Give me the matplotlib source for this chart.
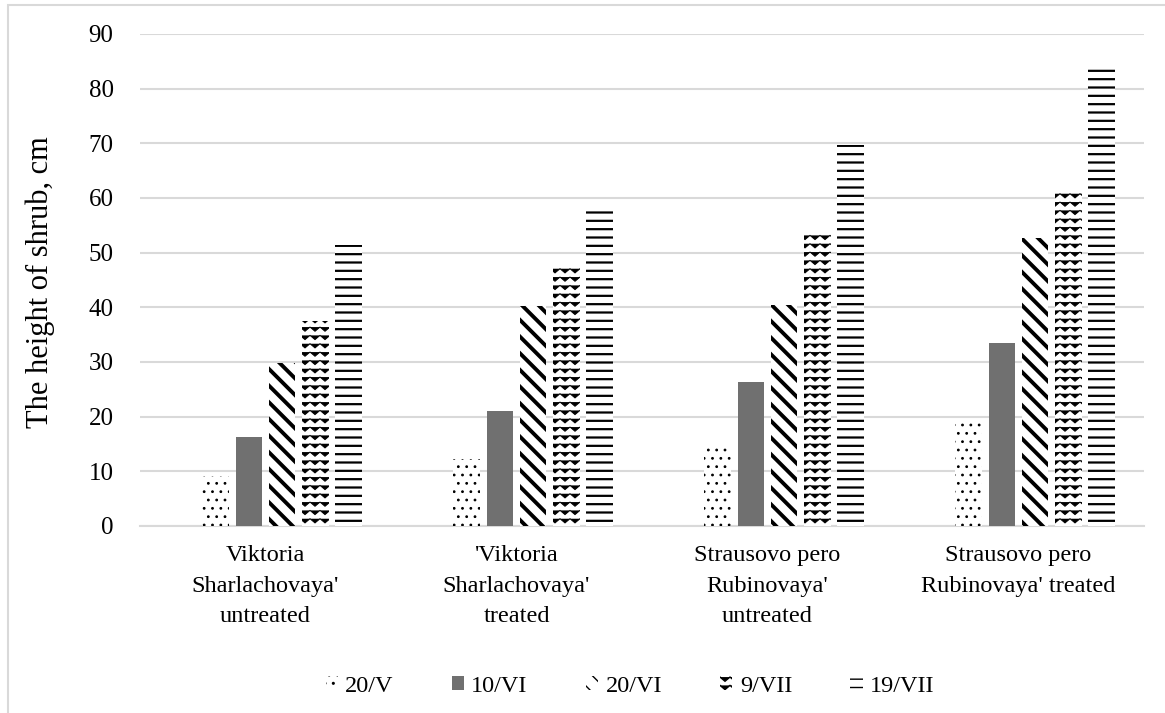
import warnings
import numpy as np
import matplotlib
matplotlib.use("Agg")
import matplotlib.pyplot as plt
from matplotlib import hatch as mhatch
from matplotlib.patches import Rectangle

warnings.filterwarnings("ignore")

# ---------------- data ----------------
categories = ["Viktoria\nSharlachovaya'\nuntreated",
              "'Viktoria\nSharlachovaya'\ntreated",
              "Strausovo pero\nRubinovaya'\nuntreated",
              "Strausovo pero\nRubinovaya' treated"]
series_names = ["20/V", "10/VI", "20/VI", "9/VII", "19/VII"]
v_20_V = [9.2, 12.3, 14.5, 19.0]
v_10_VI = [16.2, 21.1, 26.3, 33.4]
v_20_VI = [29.8, 40.3, 40.5, 52.7]
v_9_VII = [37.5, 47.6, 53.6, 61.2]
v_19_VII = [51.4, 58.3, 69.7, 83.7]
y_ticks = [0, 10, 20, 30, 40, 50, 60, 70, 80, 90]


# ------------- custom zig-zag hatch -------------
class ZigZagHatch(mhatch.HatchPatternBase):
    def __init__(self, hatch, density):
        self.num_rows = hatch.count('z') * 12
        self.periods = 10
        self.num_vertices = self.num_rows * (2 * self.periods + 1)

    def set_vertices_and_codes(self, vertices, codes):
        from matplotlib.path import Path
        npts = 2 * self.periods + 1
        xs = np.linspace(0, 1, npts)
        amp = 0.021
        idx = 0
        for r in range(self.num_rows):
            y0 = (r + 0.5) / self.num_rows
            ys = y0 + np.where(np.arange(npts) % 2 == 0, amp, -amp)
            vertices[idx:idx + npts, 0] = xs
            vertices[idx:idx + npts, 1] = ys
            codes[idx] = Path.MOVETO
            codes[idx + 1:idx + npts] = Path.LINETO
            idx += npts


if ZigZagHatch not in mhatch._hatch_types:
    mhatch._hatch_types.append(ZigZagHatch)

# ---------------- styling ----------------
plt.rcParams['font.family'] = ['Liberation Serif', 'DejaVu Serif']
FS = 17.5

styles = [
    dict(color='white', edgecolor='black', hatch='..', hlw=0.8),
    dict(color='#707070', edgecolor='#707070', hatch=None, hlw=1.0),
    dict(color='white', edgecolor='black', hatch='\\\\', hlw=2.8),
    dict(color='white', edgecolor='black', hatch='z', hlw=0.7),
    dict(color='white', edgecolor='black', hatch='--', hlw=1.6),
]
values = [v_20_V, v_10_VI, v_20_VI, v_9_VII, v_19_VII]

W, H = 1165, 713
fig = plt.figure(figsize=(W / 100, H / 100), dpi=100)
ax = fig.add_axes([140 / W, 1 - 526 / H, (1144 - 140) / W, (526 - 34) / H])

x = np.arange(len(categories))
step = 0.1327
bw = 0.106
for k, (name, vals, st) in enumerate(zip(series_names, values, styles)):
    with plt.rc_context({'hatch.linewidth': st['hlw']}):
        bars = ax.bar(x + (k - 1.5) * step, vals, width=bw, color=st['color'],
                      edgecolor=st['edgecolor'], linewidth=0, hatch=st['hatch'],
                      label=name, zorder=3)
    for b in bars:
        try:
            b.set_hatch_linewidth(st['hlw'])
        except Exception:
            pass

ax.set_xlim(-0.5, len(categories) - 0.5)
ax.set_ylim(0, 90)
ax.set_yticks(y_ticks)
ax.set_yticklabels([str(t) for t in y_ticks], fontsize=18)
ax.set_xticks(x)
ax.set_xticklabels(categories, fontsize=FS, linespacing=1.58)
ax.tick_params(axis='both', length=0)
ax.tick_params(axis='y', pad=19)
ax.tick_params(axis='x', pad=14)
ax.grid(axis='y', color='#d9d9d9', linewidth=1.5, zorder=0)
for s in ['top', 'right', 'left']:
    ax.spines[s].set_visible(False)
ax.spines['bottom'].set_color('#d9d9d9')
ax.spines['bottom'].set_linewidth(1.5)
ax.set_ylabel("The height of shrub, cm", fontsize=22)
ax.yaxis.set_label_coords(40 / W, 1 - 282 / H, transform=fig.transFigure)
ax.yaxis.label.set_verticalalignment('center')

leg = fig.legend(loc='center', bbox_to_anchor=(630 / W, 1 - 686 / H), ncol=5,
                 frameon=False, fontsize=FS, handlelength=0.5, handleheight=0.5,
                 handletextpad=0.3, columnspacing=2.4)

# outer chart border
fig.patches.append(Rectangle((8 / W, -0.05), 1.1, 1 - 5 / H + 0.05,
                             transform=fig.transFigure, fill=False,
                             edgecolor='#d9d9d9', linewidth=1.5))

fig.savefig("out.png", dpi=100, facecolor='white')
